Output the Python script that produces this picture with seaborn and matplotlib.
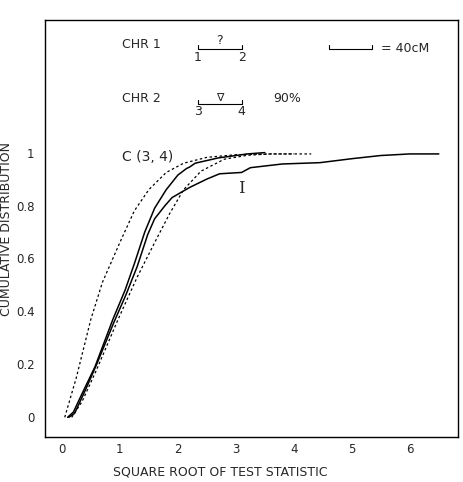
import numpy as np
import pandas as pd
import matplotlib
matplotlib.use("Agg")
import matplotlib.pyplot as plt
import seaborn as sns

# curves (x = sqrt of test statistic, y = cumulative distribution)
dash_left_x = [0.05, 0.25, 0.5, 0.7, 1.0, 1.25, 1.5, 1.8, 2.1, 2.5, 3.0, 3.6, 4.3]
dash_left_y = [0.0, 0.15, 0.37, 0.51, 0.66, 0.78, 0.86, 0.925, 0.96, 0.982, 0.992, 0.995, 0.995]

dash_right_x = [0.17, 0.35, 0.6, 0.97, 1.3, 1.6, 1.86, 2.1, 2.4, 2.8, 3.2, 3.6, 4.0]
dash_right_y = [0.0, 0.06, 0.18, 0.37, 0.53, 0.66, 0.77, 0.86, 0.93, 0.975, 0.99, 0.995, 0.995]

solid_up_x = [0.1, 0.2, 0.35, 0.57, 0.88, 1.09, 1.25, 1.43, 1.6, 1.8, 2.0, 2.15, 2.2, 2.3, 2.7, 3.2, 3.5]
solid_up_y = [0.0, 0.02, 0.09, 0.19, 0.37, 0.48, 0.58, 0.7, 0.79, 0.86, 0.915, 0.94, 0.945, 0.96, 0.98, 0.995, 1.0]

solid_I_x = [0.12, 0.22, 0.4, 0.6, 0.9, 1.1, 1.3, 1.48, 1.6, 1.78, 1.9, 2.2, 2.5, 2.72, 3.1, 3.25,
             3.8, 4.45, 5.0, 5.5, 6.0, 6.5]
solid_I_y = [0.0, 0.015, 0.1, 0.2, 0.36, 0.46, 0.57, 0.69, 0.75, 0.8, 0.83, 0.868, 0.9, 0.92, 0.925,
             0.943, 0.957, 0.962, 0.977, 0.989, 0.995, 0.995]

x_ticks = [0, 1, 2, 3, 4, 5, 6]
y_ticks = [0, 0.2, 0.4, 0.6, 0.8, 1]
y_ticklabels = ["0", "0.2", "0.4", "0.6", "0.8", "1"]

sns.set_style("white")
plt.rcParams['font.family'] = ['DejaVu Sans']

fig = plt.figure(figsize=(4.64, 4.82), dpi=100)
ax = fig.add_axes([0.097, 0.093, 0.89, 0.865])

curves = [
    (dash_left_x, dash_left_y, (2, 2)),
    (dash_right_x, dash_right_y, (2, 2)),
    (solid_up_x, solid_up_y, ""),
    (solid_I_x, solid_I_y, ""),
]
for xs, ys, dash in curves:
    df = pd.DataFrame({"x": xs, "y": ys})
    if dash:
        sns.lineplot(data=df, x="x", y="y", sort=False, ax=ax, color="black",
                     lw=0.9, linestyle=(0, dash))
    else:
        sns.lineplot(data=df, x="x", y="y", sort=False, ax=ax, color="black", lw=1.1)

ax.set_xlim(-0.29, 6.83)
ax.set_ylim(-0.075, 1.5)
ax.set_xticks(x_ticks)
ax.set_yticks(y_ticks)
ax.set_yticklabels(y_ticklabels)
ax.tick_params(axis="x", direction="in", length=4, labelsize=8.5, pad=4)
ax.tick_params(axis="y", direction="out", length=4, labelsize=8.5)
for s in ax.spines.values():
    s.set_color("black")
    s.set_linewidth(1.0)

ax.set_xlabel("SQUARE ROOT OF TEST STATISTIC", fontsize=9)
ax.xaxis.set_label_coords(0.424, -0.068)
ax.set_ylabel("CUMULATIVE DISTRIBUTION", fontsize=9)
ax.yaxis.set_label_coords(-0.078, 0.5)

fs = 9
# chromosome legend at the top
ax.text(1.03, 1.41, "CHR 1", fontsize=fs, va="center")
ax.plot([2.34, 2.34, 3.1, 3.1], [1.405, 1.39, 1.39, 1.405], color="black", lw=0.8)
ax.text(2.72, 1.425, "?", fontsize=fs, ha="center", va="center")
ax.text(2.34, 1.36, "1", fontsize=fs, ha="center", va="center")
ax.text(3.1, 1.36, "2", fontsize=fs, ha="center", va="center")

ax.plot([4.6, 4.6, 5.35, 5.35], [1.405, 1.39, 1.39, 1.405], color="black", lw=0.8)
ax.text(5.5, 1.395, "= 40cM", fontsize=fs, va="center")

ax.text(1.03, 1.205, "CHR 2", fontsize=fs, va="center")
ax.plot([2.34, 2.34, 3.1, 3.1], [1.2, 1.185, 1.185, 1.2], color="black", lw=0.8)
ax.text(2.72, 1.205, "∇", fontsize=fs - 1, ha="center", va="center")
ax.text(2.34, 1.155, "3", fontsize=fs, ha="center", va="center")
ax.text(3.1, 1.155, "4", fontsize=fs, ha="center", va="center")
ax.text(3.65, 1.205, "90%", fontsize=fs, va="center")

ax.text(1.03, 0.985, "C (3, 4)", fontsize=fs + 1, va="center")
ax.text(3.1, 0.865, "I", fontsize=fs + 3, ha="center", va="center", family="DejaVu Serif")

fig.savefig("out.png", dpi=100)
